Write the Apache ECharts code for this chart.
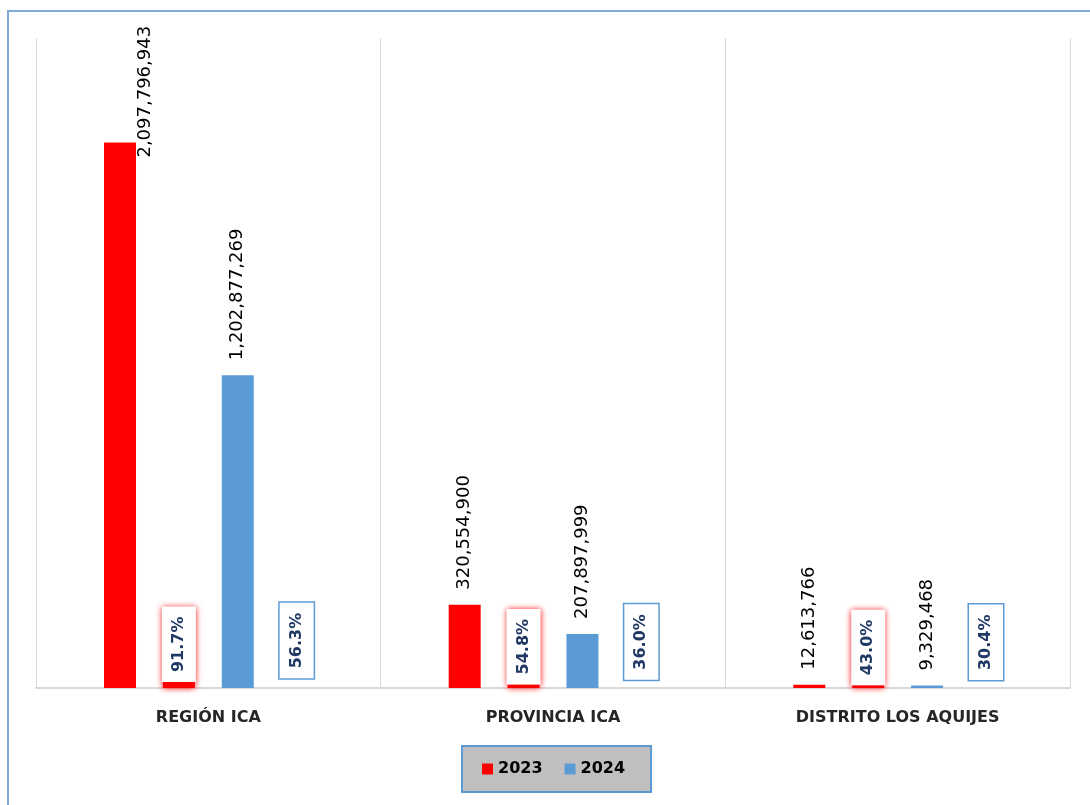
<!DOCTYPE html>
<html>
<head>
<meta charset="utf-8">
<script src="https://cdn.jsdelivr.net/npm/echarts@6/dist/echarts.min.js"></script>
<style>
  html, body { margin: 0; padding: 0; background: #fff; }
  #chart { width: 1090px; height: 805px; }
</style>
</head>
<body>
<div id="chart"></div>
<script>
  const categories = ['REGIÓN ICA', 'PROVINCIA ICA', 'DISTRITO LOS AQUIJES'];
  const values2023 = [2097796943, 320554900, 12613766];
  const values2024 = [1202877269, 207897999, 9329468];
  const pct2023 = [91.7, 54.8, 43.0];
  const pct2024 = [56.3, 36.0, 30.4];

  const fmtNum = (v) => v.toLocaleString('en-US');
  const fmtPct = (v) => v.toFixed(1) + '%';

  const valueLabel = {
    show: true,
    position: 'top',
    rotate: 90,
    align: 'left',
    verticalAlign: 'middle',
    distance: 15,
    color: '#000',
    fontFamily: 'DejaVu Sans',
    fontSize: 18,
    formatter: (p) => fmtNum(p.value),
  };

  const pctLabel = {
    show: true,
    position: 'top',
    rotate: 90,
    align: 'left',
    verticalAlign: 'middle',
    color: '#1f3864',
    fontFamily: 'DejaVu Sans',
    fontWeight: 'bold',
    fontSize: 16,
    backgroundColor: '#fff',
    padding: [9, 10, 9, 10],
    formatter: (p) => fmtPct(p.value),
  };

  const myChart = echarts.init(document.getElementById('chart'));
  myChart.setOption({
    animation: false,
    graphic: [{
      type: 'rect',
      shape: { x: 8, y: 11, width: 1100, height: 820 },
      style: { fill: 'none', stroke: '#7fa9db', lineWidth: 2 },
      silent: true,
    }],
    grid: { left: 36, right: 20, top: 38, bottom: 117 },
    legend: {
      data: ['2023', '2024'],
      top: 746,
      left: 462,
      itemWidth: 11,
      itemHeight: 11,
      itemGap: 22,
      padding: [15, 26, 15, 20],
      backgroundColor: '#bfbfbf',
      borderColor: '#5b9bd5',
      borderWidth: 2,
      icon: 'rect',
      textStyle: { fontFamily: 'DejaVu Sans', fontWeight: 'bold', fontSize: 16, color: '#000' },
    },
    xAxis: {
      type: 'category',
      data: categories,
      axisTick: { show: false },
      axisLine: { lineStyle: { color: '#d9d9d9', width: 2 } },
      splitLine: { show: true, lineStyle: { color: '#d9d9d9', width: 1 } },
      axisLabel: {
        margin: 22,
        color: '#262626',
        fontFamily: 'DejaVu Sans',
        fontWeight: 'bold',
        fontSize: 16,
      },
    },
    yAxis: [
      { type: 'value', min: 0, max: 2500000000, show: false, splitLine: { show: false } },
      { type: 'value', min: 0, max: 10000, show: false, splitLine: { show: false } },
    ],
    series: [
      {
        name: '2023',
        type: 'bar',
        yAxisIndex: 0,
        barWidth: 32,
        barGap: '84%',
        itemStyle: { color: '#ff0000' },
        label: valueLabel,
        data: values2023.map((v, i) => i === 0
          ? { value: v, label: { position: ['100%', 15], align: 'left', verticalAlign: 'top', distance: 0 } }
          : v),
      },
      {
        name: '2023 %',
        type: 'bar',
        yAxisIndex: 1,
        barWidth: 32,
        itemStyle: { color: '#ff0000', shadowBlur: 6, shadowColor: '#ff0000' },
        label: Object.assign({}, pctLabel, {
          distance: 0,
          shadowBlur: 6,
          shadowColor: 'rgba(255,0,0,0.9)',
        }),
        data: pct2023,
      },
      {
        name: '2024',
        type: 'bar',
        yAxisIndex: 0,
        barWidth: 32,
        itemStyle: { color: '#5b9bd5' },
        label: valueLabel,
        data: values2024,
      },
      {
        name: '2024 %',
        type: 'bar',
        yAxisIndex: 1,
        barWidth: 32,
        itemStyle: { color: 'rgba(0,0,0,0)' },
        label: Object.assign({}, pctLabel, {
          distance: 6,
          borderColor: '#5b9bd5',
          borderWidth: 1.5,
        }),
        data: pct2024,
      },
    ],
  });
</script>
</body>
</html>
